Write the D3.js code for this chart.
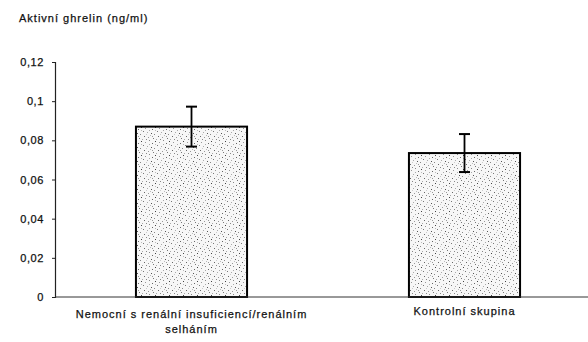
<!DOCTYPE html>
<html><head><meta charset="utf-8">
<script src="https://cdn.jsdelivr.net/npm/d3@7"></script>
<style>
html,body{margin:0;padding:0;background:#fff;}
text{font-family:"Liberation Sans",Arial,sans-serif;fill:#111;stroke:#111;stroke-width:0.25px;}
</style></head>
<body><svg id="c" width="588" height="342"></svg>
<script>
const categories = [["Nemocní s renální insuficiencí/renálním","selháním"],["Kontrolní skupina"]];
const categoryKeys = ["renal","kontrol"];
const values = [0.087, 0.0735];
const errors = [0.0102, 0.0097];
const yTicks = [0,0.02,0.04,0.06,0.08,0.1,0.12];
const yTickLabels = ["0","0,02","0,04","0,06","0,08","0,1","0,12"];
const yTitle = "Aktivní ghrelin (ng/ml)";

const svg = d3.select("#c");
// stipple pattern (fixed decorative dot layout)
const defs = svg.append("defs");
const pat = defs.append("pattern").attr("id","dots").attr("patternUnits","userSpaceOnUse")
  .attr("width",14).attr("height",14);
pat.append("rect").attr("width",14).attr("height",14).attr("fill","#f7f7f7");
const dotSpec = [[1,1,"#444"],[5,2,"#999"],[9,0,"#888"],[12,3,"#666"],[3,5,"#777"],[7,6,"#aaa"],
  [11,7,"#555"],[0,8,"#888"],[4,10,"#666"],[8,11,"#999"],[13,12,"#777"],[2,13,"#aaa"],
  [10,9,"#bbb"],[6,13,"#888"],[1,4,"#bbb"],[12,10,"#999"],[6,8,"#ccc"],[9,4,"#aaa"]];
dotSpec.forEach(([x,y,c])=>pat.append("rect").attr("x",x).attr("y",y).attr("width",1).attr("height",1).attr("fill",c));

const y = d3.scaleLinear().domain([0,0.12]).range([297,62]);
const x = d3.scaleBand().domain(categoryKeys).range([55,601]).paddingInner(0.593).paddingOuter(0.2965);

// bars
svg.selectAll("rect.bar").data(values).enter().append("rect").attr("class","bar")
  .attr("x",(d,i)=>x(categoryKeys[i])).attr("width",x.bandwidth())
  .attr("y",d=>y(d)).attr("height",d=>y(0)-y(d))
  .attr("fill","url(#dots)").attr("stroke","#000").attr("stroke-width",2);

// error bars
const eg = svg.selectAll("g.err").data(values).enter().append("g").attr("class","err")
  .attr("transform",(d,i)=>`translate(${x(categoryKeys[i])+x.bandwidth()/2},0)`);
eg.append("line").attr("y1",(d,i)=>y(d+errors[i])).attr("y2",(d,i)=>y(d-errors[i]))
  .attr("stroke","#000").attr("stroke-width",1.8);
eg.append("line").attr("x1",-5.5).attr("x2",5.5).attr("y1",(d,i)=>y(d+errors[i])).attr("y2",(d,i)=>y(d+errors[i]))
  .attr("stroke","#000").attr("stroke-width",2);
eg.append("line").attr("x1",-5.5).attr("x2",5.5).attr("y1",(d,i)=>y(d-errors[i])).attr("y2",(d,i)=>y(d-errors[i]))
  .attr("stroke","#000").attr("stroke-width",2);

// y axis
const yAxis = d3.axisLeft(y).tickValues(yTicks).tickSize(3).tickPadding(8)
  .tickFormat((d,i)=>yTickLabels[i]);
const ga = svg.append("g").attr("transform","translate(55,0)").call(yAxis);
ga.select(".domain").attr("stroke","#222").attr("stroke-width",1.2);
ga.selectAll(".tick line").attr("stroke","#222");
ga.selectAll(".tick text").attr("font-size",11).attr("letter-spacing","0.6px")
  .attr("font-family","'Liberation Sans',Arial,sans-serif").attr("fill","#111");

// x baseline
svg.append("line").attr("x1",55).attr("x2",588).attr("y1",y(0)).attr("y2",y(0))
  .attr("stroke","#333").attr("stroke-width",1);

// category labels
const lab = svg.selectAll("text.cat").data(categories).enter().append("text").attr("class","cat")
  .attr("text-anchor","middle").attr("font-size",11).attr("letter-spacing","1px")
  .attr("transform",(d,i)=>`translate(${x(categoryKeys[i])+x.bandwidth()/2},${i===0?318:315})`);
lab.selectAll("tspan").data(d=>d).enter().append("tspan")
  .attr("x",0).attr("dy",(d,i)=>i===0?0:15).text(d=>d);

// title
svg.append("text").attr("x",19).attr("y",22).attr("font-size",11).attr("letter-spacing","1px").text(yTitle);
</script></body></html>
